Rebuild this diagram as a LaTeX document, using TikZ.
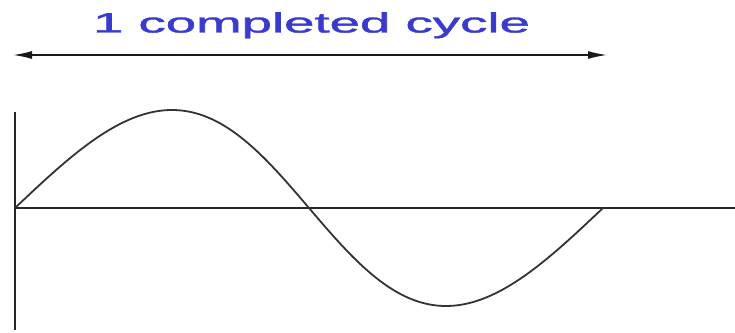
\documentclass[tikz,border=0pt]{standalone}
\usepackage{fontspec}
\setsansfont{Liberation Sans}
\newfontfamily\cyclefont{Liberation Sans}[FakeBold=1.2]
\usepackage{xcolor}
\usetikzlibrary{arrows.meta}
\definecolor{cycleblue}{RGB}{58,58,205}

\begin{document}
\begin{tikzpicture}[x=1pt, y=1pt,
        axis/.style={line width=#1, black!85},
        wave/.style={line width=1.8pt, black!80},
        span/.style={line width=1.6pt, black!90, {Latex[length=19pt,width=8pt]}-{Latex[length=19pt,width=8pt]}},
        title/.style={font=\cyclefont\fontsize{28}{30}\selectfont, text=cycleblue,
                      xscale=1.95, inner sep=0pt, anchor=base}]
      \useasboundingbox (0,0) rectangle (735,332);
      % one full period, marked above
      \node[title] (t) at (311.5,299.5) {1 completed cycle};
      \coordinate (sl) at (13,277);
      \coordinate (sr) at (607,277);
      \draw[span] (sl) -- (sr);
      % axes
      \coordinate (o) at (15,124);
      \coordinate (ytop) at (15,220);
      \coordinate (ybot) at (15,2);
      \coordinate (xend) at (735,124);
      \draw[axis=2.8pt] (ytop) -- (ybot);
      \draw[axis=1.9pt] (o) -- (xend);
      % the wave
      \draw[wave] plot[domain=0:360, samples=120, smooth] ({15+1.63333*\x+10*sin(\x)},{124+98*sin(\x)});
    \end{tikzpicture}
\end{document}
